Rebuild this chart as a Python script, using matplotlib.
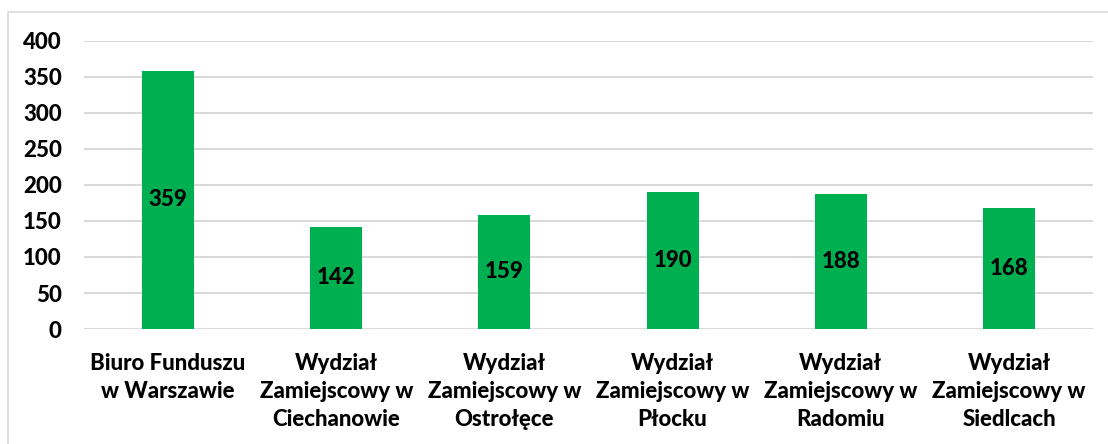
import matplotlib.pyplot as plt
from matplotlib.patches import Rectangle

categories = ['Biuro Funduszu\nw Warszawie',
              'Wydział\nZamiejscowy w\nCiechanowie',
              'Wydział\nZamiejscowy w\nOstrołęce',
              'Wydział\nZamiejscowy w\nPłocku',
              'Wydział\nZamiejscowy w\nRadomiu',
              'Wydział\nZamiejscowy w\nSiedlcach']
values = [359, 142, 159, 190, 188, 168]
yticks = [0, 50, 100, 150, 200, 250, 300, 350, 400]

plt.rcParams['font.family'] = ['Lato', 'DejaVu Sans']
W = 900

fig = plt.figure(figsize=(11.08, 4.44), dpi=100)
ax = fig.add_axes([0.0758, 0.259, 0.9107, 0.6487])

x = range(len(values))
bars = ax.bar(x, values, width=0.31, color='#00B050', zorder=3)
for b, v in zip(bars, values):
    ax.text(b.get_x() + b.get_width() / 2, v / 2, str(v), ha='center', va='center',
            fontsize=16, fontweight=W, color='black', zorder=4)

ax.set_xlim(-0.5, len(values) - 0.5)
ax.set_ylim(0, 400)
ax.set_yticks(yticks)
ax.set_yticklabels([str(t) for t in yticks], fontsize=16, fontweight=W)
ax.set_xticks(list(x))
ax.set_xticklabels(categories, fontsize=16, fontweight=W, linespacing=1.42)
ax.tick_params(axis='y', length=0, pad=16)
ax.tick_params(axis='x', length=0, pad=17)

ax.grid(axis='y', color='#d9d9d9', linewidth=1.5, zorder=0)
for s in ax.spines.values():
    s.set_visible(False)

fig.patches.append(Rectangle((8 / 1108, -0.1), 1.2, 1 - 12 / 444 + 0.1,
                             transform=fig.transFigure, fill=False,
                             edgecolor='#d9d9d9', linewidth=1.2))

fig.savefig('out.png', dpi=100)
